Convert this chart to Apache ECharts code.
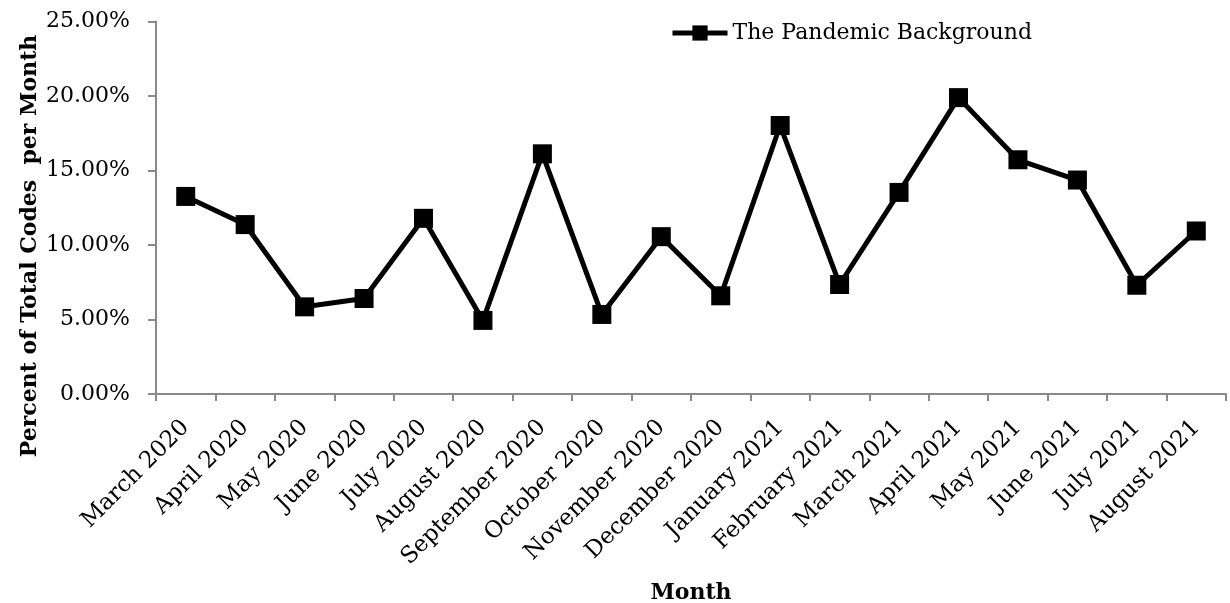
<!DOCTYPE html>
<html>
<head>
<meta charset="utf-8">
<script src="https://cdn.jsdelivr.net/npm/echarts@6/dist/echarts.min.js"></script>
<style>html,body{margin:0;padding:0;background:#fff}#c{width:1230px;height:603px}</style>
</head>
<body>
<div id="c"></div>
<script>
const categories = ["March 2020","April 2020","May 2020","June 2020","July 2020","August 2020","September 2020","October 2020","November 2020","December 2020","January 2021","February 2021","March 2021","April 2021","May 2021","June 2021","July 2021","August 2021"];
const seriesName = "The Pandemic Background";
const values = [13.26, 11.37, 5.85, 6.41, 11.79, 4.94, 16.12, 5.34, 10.56, 6.59, 18.02, 7.35, 13.53, 19.89, 15.72, 14.36, 7.30, 10.94];
const yTitle = "Percent of Total Codes  per Month";
const xTitle = "Month";

const FONT = '"DejaVu Serif", "Liberation Serif", serif';
const chart = echarts.init(document.getElementById('c'), null, {renderer: 'canvas'});
chart.setOption({
  animation: false,
  backgroundColor: '#ffffff',
  grid: {left: 156, right: 4, top: 21.5, bottom: 209, containLabel: false, outerBoundsMode: 'none'},
  legend: {
    data: [seriesName],
    left: 670, top: 22, padding: 0,
    itemWidth: 55, itemHeight: 19, itemGap: 5,
    lineStyle: {width: 5, color: '#000'},
    textStyle: {fontFamily: FONT, fontSize: 22, color: '#000'}
  },
  xAxis: {
    type: 'category',
    data: categories,
    boundaryGap: true,
    axisLine: {lineStyle: {color: '#898989', width: 2}},
    axisTick: {show: true, length: 7, lineStyle: {color: '#898989', width: 2}},
    axisLabel: {interval: 0, rotate: 45, margin: 30, fontFamily: FONT, fontSize: 23, color: '#000'},
    name: xTitle,
    nameLocation: 'middle',
    nameGap: 188,
    nameTextStyle: {fontFamily: FONT, fontSize: 22, fontWeight: 'bold', color: '#000'}
  },
  yAxis: {
    type: 'value',
    min: 0, max: 25, interval: 5,
    splitLine: {show: false},
    axisLine: {show: true, lineStyle: {color: '#898989', width: 2}},
    axisTick: {show: true, length: 8, lineStyle: {color: '#898989', width: 2}},
    axisLabel: {margin: 26, fontFamily: FONT, fontSize: 22, color: '#000',
      formatter: v => v.toFixed(2) + '%'}
  },
  graphic: [{
    type: 'text',
    x: 30, y: 246,
    rotation: Math.PI / 2,
    style: {text: yTitle, font: 'bold 22px ' + FONT, fill: '#000', align: 'center', verticalAlign: 'middle'}
  }],
  series: [{
    name: seriesName,
    type: 'line',
    data: values,
    symbol: 'rect',
    symbolSize: 19,
    lineStyle: {color: '#000', width: 5},
    itemStyle: {color: '#000'}
  }]
});
</script>
</body>
</html>
